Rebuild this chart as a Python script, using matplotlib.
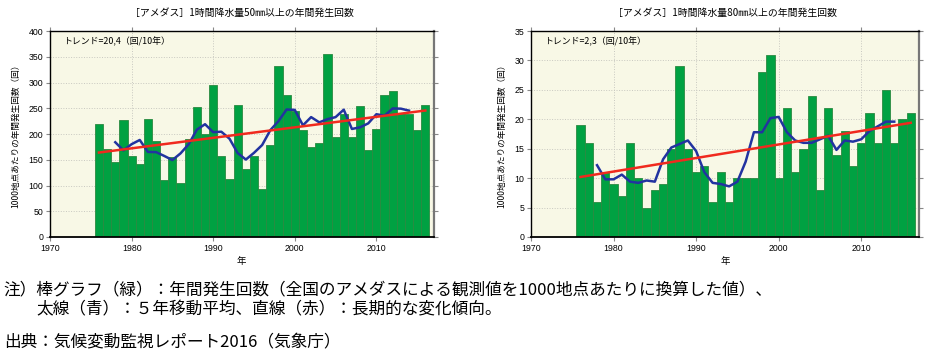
import numpy as np
import matplotlib
matplotlib.use("Agg")
import matplotlib.pyplot as plt

plt.rcParams["font.family"] = ["Noto Sans CJK JP", "DejaVu Sans"]

# 年
years = list(range(1976, 2017))
ma_years = list(range(1978, 2015))
trend_years = [1976, 2016]

# 1時間降水量50mm以上（1000地点あたり）
count50 = [220, 170, 146, 227, 157, 141, 230, 187, 111, 155,
           104, 190, 252, 200, 296, 157, 113, 256, 132, 157,
           94, 178, 332, 276, 245, 207, 174, 182, 356, 194,
           238, 194, 254, 169, 210, 276, 283, 240, 239, 208, 257]
# 5年移動平均
ma50 = [184.0, 168.2, 180.2, 188.4, 165.2, 164.8, 157.4, 149.4, 162.4, 180.2,
        208.4, 219.0, 203.6, 204.4, 190.8, 163.0, 150.4, 163.4, 178.6, 207.4,
        225.0, 247.6, 246.8, 216.8, 232.8, 222.6, 228.8, 232.8, 247.2, 209.8,
        213.0, 220.6, 238.4, 235.6, 249.6, 249.2, 245.4]
trend50 = [164, 245.6]

# 1時間降水量80mm以上
count80 = [19, 16, 6, 11, 9, 7, 16, 10, 5, 8,
           9, 15, 29, 15, 11, 12, 6, 11, 6, 10,
           10, 10, 28, 31, 10, 22, 11, 15, 24, 8,
           22, 14, 18, 12, 16, 21, 16, 25, 16, 20, 21]
ma80 = [12.2, 9.8, 9.8, 10.6, 9.4, 9.2, 9.6, 9.4, 13.2, 15.2,
        15.8, 16.4, 14.6, 11.0, 9.2, 9.0, 8.6, 9.4, 12.8, 17.8,
        17.8, 20.2, 20.4, 17.8, 16.4, 16.0, 16.0, 16.6, 17.2, 14.8,
        16.4, 16.2, 16.6, 18.0, 18.8, 19.6, 19.6]
trend80 = [10.2, 19.4]

titles = ["［アメダス］1時間降水量50㎜以上の年間発生回数",
          "［アメダス］1時間降水量80㎜以上の年間発生回数"]
trend_labels = ["トレンド=20,4（回/10年）", "トレンド=2,3（回/10年）"]
ylabel = "1000地点あたりの年間発生回数（回）"
xticks = [1970, 1980, 1990, 2000, 2010]

fig = plt.figure(figsize=(9.4, 3.51), dpi=100)
ax1 = fig.add_axes([50 / 940, 1 - 237 / 351, 383.5 / 940, 206 / 351])
ax2 = fig.add_axes([531 / 940, 1 - 237 / 351, 388 / 940, 206 / 351])

panels = [
    (ax1, count50, ma50, trend50, (0, 400), 50, 0),
    (ax2, count80, ma80, trend80, (0, 35), 5, 1),
]

for ax, counts, ma, trend, ylim, ystep, i in panels:
    ax.set_facecolor("#f8f8e6")
    ax.bar(years, counts, width=1.0, color="#00a142", edgecolor="#2a8a40",
           linewidth=0.6, zorder=2)
    ax.plot(ma_years, ma, color="#2233a0", lw=1.8, zorder=3)
    ax.plot(trend_years, trend, color="#f02a1e", lw=1.8, zorder=4)

    ax.set_xlim(1970, 2017)
    ax.set_ylim(*ylim)
    ax.set_xticks(xticks)
    ax.set_yticks(np.arange(ylim[0], ylim[1] + 0.1, ystep))
    ax.grid(True, color="#c8c8c0", linestyle=":", linewidth=0.7, zorder=0)
    ax.set_axisbelow(True)

    ax.tick_params(direction="out", length=3, width=0.8, color="#888888",
                   top=True, right=True, labelsize=6.3, pad=2)
    for lab in ax.get_xticklabels() + ax.get_yticklabels():
        lab.set_fontfamily("Liberation Sans")

    for side in ["left", "top", "bottom"]:
        ax.spines[side].set_color("black")
        ax.spines[side].set_linewidth(1.0)
    ax.spines["bottom"].set_linewidth(1.3)
    ax.spines["right"].set_color("#777777")
    ax.spines["right"].set_linewidth(1.6)

    ax.set_title(titles[i], fontsize=7.1, pad=11)
    ax.text(0.034, 0.951, trend_labels[i], transform=ax.transAxes,
            fontsize=6.4, ha="left", va="center")
    ax.set_xlabel("年", fontsize=6.8, labelpad=3)
    ax.set_ylabel(ylabel, fontsize=6.2, labelpad=6)

fig.text(0.004, 1 - 290 / 351,
         "注）棒グラフ（緑）：年間発生回数（全国のアメダスによる観測値を1000地点あたりに換算した値）、",
         fontsize=12, ha="left", va="center")
fig.text(36 / 940, 1 - 310 / 351,
         "太線（青）：５年移動平均、直線（赤）：長期的な変化傾向。",
         fontsize=12, ha="left", va="center")
fig.text(0.004, 1 - 341.5 / 351,
         "出典：気候変動監視レポート2016（気象庁）",
         fontsize=12, ha="left", va="center")

fig.savefig("out.png", dpi=100, facecolor="white")
